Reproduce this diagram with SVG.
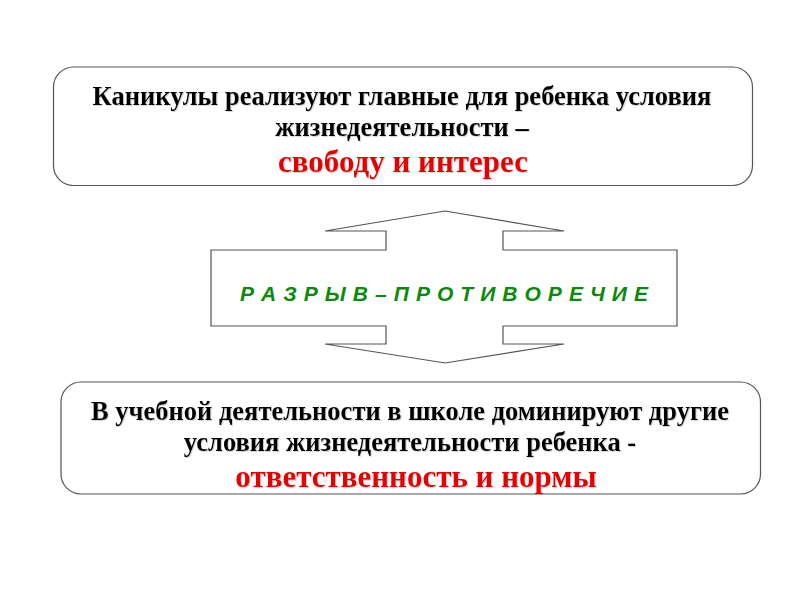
<svg xmlns="http://www.w3.org/2000/svg" width="800" height="600" viewBox="0 0 800 600">
<defs>
<filter id="sh" x="-5%" y="-20%" width="110%" height="140%">
<feDropShadow dx="1" dy="1" stdDeviation="0.4" flood-color="#999" flood-opacity="0.4"/>
</filter>
<style>
.box{fill:#fff;stroke:#555;stroke-width:1.2}
.t{font-family:"Liberation Serif","Times New Roman",serif;font-weight:bold;text-anchor:middle}
.blk{fill:#000;font-size:26.5px}
.red{fill:#e60000;font-size:31px}
.grn{font-family:"Liberation Sans",Arial,sans-serif;font-weight:bold;font-style:italic;font-size:21px;fill:#0a8a0a;text-anchor:middle}
</style>
</defs>
<rect width="800" height="600" fill="#fff"/>
<g id="connectors">
<polygon class="box" points="445,211 564,231 503,231 503,250 677,250 677,326 503,326 503,344 564,344 445,363 325,344 386,344 386,326 211,326 211,250 386,250 386,231 325,231"/>
</g>
<g id="gap">
<text class="grn" x="444" y="301" textLength="408" lengthAdjust="spacing">Р А З Р Ы В – П Р О Т И В О Р Е Ч И Е</text>
</g>
<g id="top">
<rect class="box" x="53.5" y="67" width="699" height="118.5" rx="20"/>
<g filter="url(#sh)">
<text class="t blk" x="402" y="105">Каникулы реализуют главные для ребенка условия</text>
<text class="t blk" x="402" y="136">жизнедеятельности –</text>
<text class="t red" x="403" y="172">свободу и интерес</text>
</g>
</g>
<g id="bottom">
<rect class="box" x="61" y="382" width="699.5" height="112" rx="20"/>
<g filter="url(#sh)">
<text class="t blk" x="410" y="420">В учебной деятельности в школе доминируют другие</text>
<text class="t blk" x="410" y="451">условия жизнедеятельности ребенка -</text>
<text class="t red" x="416" y="487">ответственность и нормы</text>
</g>
</g>
</svg>
